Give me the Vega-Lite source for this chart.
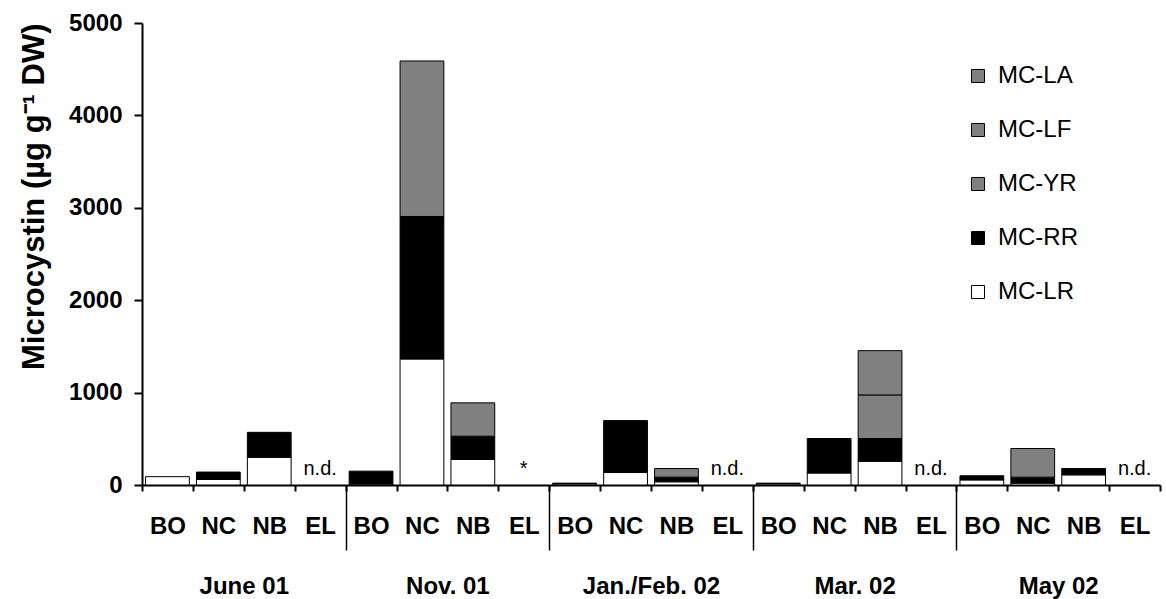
{
  "$schema": "https://vega.github.io/schema/vega-lite/v6.json",
  "autosize": {"type": "none"},
  "padding": {"left": 142, "top": 23, "right": 6, "bottom": 114},
  "width": 1018,
  "height": 462,
  "config": {
    "view": {"stroke": null},
    "font": "Liberation Sans",
    "axis": {"grid": false, "domainColor": "#000000", "tickColor": "#000000", "labelColor": "#000000", "titleColor": "#000000"}
  },
  "datasets": {
    "mc": [
      {"sample": "June 01|BO", "component": "MC-LR", "rank": 1, "value": 90},
      {"sample": "June 01|NC", "component": "MC-LR", "rank": 1, "value": 60},
      {"sample": "June 01|NC", "component": "MC-RR", "rank": 2, "value": 80},
      {"sample": "June 01|NB", "component": "MC-LR", "rank": 1, "value": 300},
      {"sample": "June 01|NB", "component": "MC-RR", "rank": 2, "value": 270},
      {"sample": "Nov. 01|BO", "component": "MC-LR", "rank": 1, "value": 10},
      {"sample": "Nov. 01|BO", "component": "MC-RR", "rank": 2, "value": 140},
      {"sample": "Nov. 01|NC", "component": "MC-LR", "rank": 1, "value": 1364},
      {"sample": "Nov. 01|NC", "component": "MC-RR", "rank": 2, "value": 1542},
      {"sample": "Nov. 01|NC", "component": "MC-YR", "rank": 3, "value": 1683},
      {"sample": "Nov. 01|NB", "component": "MC-LR", "rank": 1, "value": 276},
      {"sample": "Nov. 01|NB", "component": "MC-RR", "rank": 2, "value": 252},
      {"sample": "Nov. 01|NB", "component": "MC-YR", "rank": 3, "value": 361},
      {"sample": "Jan./Feb. 02|BO", "component": "MC-LR", "rank": 1, "value": 12},
      {"sample": "Jan./Feb. 02|BO", "component": "MC-RR", "rank": 2, "value": 8},
      {"sample": "Jan./Feb. 02|NC", "component": "MC-LR", "rank": 1, "value": 135},
      {"sample": "Jan./Feb. 02|NC", "component": "MC-RR", "rank": 2, "value": 562},
      {"sample": "Jan./Feb. 02|NB", "component": "MC-LR", "rank": 1, "value": 35},
      {"sample": "Jan./Feb. 02|NB", "component": "MC-RR", "rank": 2, "value": 50},
      {"sample": "Jan./Feb. 02|NB", "component": "MC-YR", "rank": 3, "value": 93},
      {"sample": "Mar. 02|BO", "component": "MC-LR", "rank": 1, "value": 12},
      {"sample": "Mar. 02|BO", "component": "MC-RR", "rank": 2, "value": 8},
      {"sample": "Mar. 02|NC", "component": "MC-LR", "rank": 1, "value": 130},
      {"sample": "Mar. 02|NC", "component": "MC-RR", "rank": 2, "value": 373},
      {"sample": "Mar. 02|NB", "component": "MC-LR", "rank": 1, "value": 257},
      {"sample": "Mar. 02|NB", "component": "MC-RR", "rank": 2, "value": 246},
      {"sample": "Mar. 02|NB", "component": "MC-YR", "rank": 3, "value": 472},
      {"sample": "Mar. 02|NB", "component": "MC-LF", "rank": 4, "value": 479},
      {"sample": "May 02|BO", "component": "MC-LR", "rank": 1, "value": 55},
      {"sample": "May 02|BO", "component": "MC-RR", "rank": 2, "value": 45},
      {"sample": "May 02|NC", "component": "MC-LR", "rank": 1, "value": 20},
      {"sample": "May 02|NC", "component": "MC-RR", "rank": 2, "value": 50},
      {"sample": "May 02|NC", "component": "MC-YR", "rank": 3, "value": 15},
      {"sample": "May 02|NC", "component": "MC-LF", "rank": 4, "value": 310},
      {"sample": "May 02|NB", "component": "MC-LR", "rank": 1, "value": 110},
      {"sample": "May 02|NB", "component": "MC-RR", "rank": 2, "value": 68}
    ],
    "notes": [
      {"month": "June 01", "note": "n.d."},
      {"month": "Nov. 01", "note": "*"},
      {"month": "Jan./Feb. 02", "note": "n.d."},
      {"month": "Mar. 02", "note": "n.d."},
      {"month": "May 02", "note": "n.d."}
    ]
  },
  "layer": [
    {
      "data": {"name": "mc"},
      "mark": {"type": "bar", "stroke": "#000000", "strokeWidth": 1, "width": {"band": 0.86}},
      "encoding": {
        "x": {
          "field": "sample", "type": "nominal",
          "scale": {
            "domain": ["June 01|BO","June 01|NC","June 01|NB","June 01|EL","Nov. 01|BO","Nov. 01|NC","Nov. 01|NB","Nov. 01|EL","Jan./Feb. 02|BO","Jan./Feb. 02|NC","Jan./Feb. 02|NB","Jan./Feb. 02|EL","Mar. 02|BO","Mar. 02|NC","Mar. 02|NB","Mar. 02|EL","May 02|BO","May 02|NC","May 02|NB","May 02|EL"],
            "paddingInner": 0, "paddingOuter": 0
          },
          "axis": {
            "orient": "bottom", "title": null, "labelExpr": "split(datum.label, '|')[1]",
            "labelAngle": 0, "labelFontSize": 24, "labelFontWeight": "bold", "labelPadding": 23,
            "tickBand": "extent", "tickSize": 6, "tickWidth": 2, "domainWidth": 2
          }
        },
        "y": {
          "field": "value", "type": "quantitative", "stack": "zero",
          "scale": {"domain": [0, 5000], "nice": false},
          "axis": {
            "values": [0, 1000, 2000, 3000, 4000, 5000], "format": "d",
            "title": "Microcystin (µg g⁻¹ DW)", "titleFontSize": 31, "titleFontWeight": "bold",
            "titleAnchor": "end", "titlePadding": 18,
            "labelFontSize": 24, "labelFontWeight": "bold", "labelPadding": 12,
            "tickSize": 8, "tickWidth": 2, "domainWidth": 2
          }
        },
        "color": {
          "field": "component", "type": "nominal",
          "scale": {"domain": ["MC-LA","MC-LF","MC-YR","MC-RR","MC-LR"], "range": ["#808080","#808080","#808080","#000000","#ffffff"]},
          "legend": {
            "orient": "none", "legendX": 824, "legendY": 41, "title": null,
            "symbolType": "square", "symbolSize": 170, "symbolStrokeColor": "#000000", "symbolStrokeWidth": 1,
            "symbolOpacity": 1, "labelFontSize": 24, "labelOffset": 8, "rowPadding": 30, "labelColor": "#000000"
          }
        },
        "order": {"field": "rank", "type": "quantitative", "sort": "ascending"}
      }
    },
    {
      "data": {"name": "notes"},
      "mark": {"type": "text", "fontSize": 20, "baseline": "alphabetic", "align": "center", "dy": -10, "color": "#000000"},
      "encoding": {
        "x": {
          "field": "month", "type": "nominal", "bandPosition": 0.875,
          "scale": {"domain": ["June 01","Nov. 01","Jan./Feb. 02","Mar. 02","May 02"], "paddingInner": 0, "paddingOuter": 0},
          "axis": {
            "orient": "bottom", "title": null, "domain": false, "labelAngle": 0,
            "labelFontSize": 24, "labelFontWeight": "bold", "labelPadding": 24,
            "tickBand": "extent", "tickSize": 65, "tickWidth": 1.5,
            "tickOpacity": {"condition": {"test": "datum.index >= 0 && datum.index < 1", "value": 1}, "value": 0}
          }
        },
        "y": {"datum": 0, "type": "quantitative"},
        "text": {"field": "note"}
      }
    }
  ],
  "resolve": {"scale": {"x": "independent"}, "axis": {"x": "independent"}}
}
